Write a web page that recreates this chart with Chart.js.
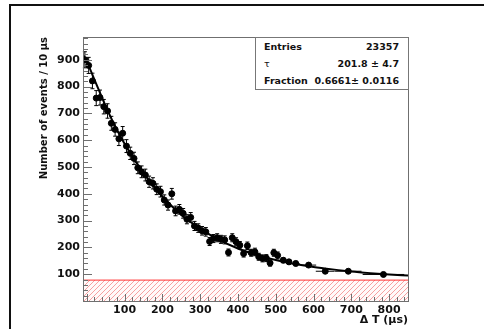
<!DOCTYPE html>
<html>
<head>
<meta charset="utf-8">
<script src="https://cdn.jsdelivr.net/npm/chart.js@4.4.1/dist/chart.umd.min.js"></script>
<style>
  html, body { margin: 0; padding: 0; background: #fff; overflow: hidden; }
  #wrap { position: relative; width: 484px; height: 329px; }
  #frame { position: absolute; left: 9px; top: 4px; width: 520px; height: 400px;
           border-top: 2px solid #111; border-left: 2px solid #111; }
  #decay { position: absolute; left: 0; top: 0; }
  #stats { position: absolute; left: 255px; top: 37px; width: 152px; height: 51px;
           border: 1px solid #777; background: #fff;
           font-family: "DejaVu Sans", sans-serif; font-weight: bold; font-size: 9.5px; color: #111; }
  #stats .row { position: absolute; left: 8px; right: 9px; height: 17px; line-height: 17px; }
  #stats .row span { position: absolute; right: 0; }
  #stats .tau { font-weight: normal; }
</style>
</head>
<body>
<div id="wrap">
  <div id="frame"></div>
  <canvas id="decay" width="484" height="329"></canvas>
  <div id="stats">
    <div class="row" style="top:0px">Entries<span>23357</span></div>
    <div class="row" style="top:17px"><b class="tau">τ</b><span>201.8 ± 4.7</span></div>
    <div class="row" style="top:34px">Fraction<span>0.6661± 0.0116</span></div>
  </div>
</div>
<script>
// Dữ liệu: tâm bin (µs), số sự kiện / 10 µs, sai số
const binX = [-5, 5, 15, 25, 35, 45, 55, 65, 75, 85, 95, 105, 115, 125, 135, 145, 155, 165, 175, 185,
              195, 205, 215, 225, 235, 245, 255, 265, 275, 285, 295, 305, 315, 325, 335, 345, 355, 365, 375, 385,
              395, 405, 415, 425, 435, 445, 455, 465, 475, 485, 495, 505,
              520, 535, 553, 587, 631, 692, 785];
const counts = [900, 879, 821, 757, 759, 725, 709, 663, 640, 605, 626, 578, 551, 532, 497, 482, 470, 445, 439, 417,
                408, 377, 358, 400, 336, 342, 327, 305, 312, 280, 272, 262, 258, 222, 233, 236, 230, 228, 181, 236,
                221, 208, 177, 206, 180, 183, 165, 159, 160, 142, 180, 170,
                152, 146, 140, 134, 111, 111, 99];
const errY = [30, 30, 29, 28, 28, 27, 27, 26, 25, 25, 25, 24, 23, 23, 22, 22, 22, 21, 21, 20,
              20, 19, 19, 20, 18, 18, 18, 17, 18, 17, 16, 16, 16, 15, 15, 15, 15, 15, 13, 15,
              15, 14, 13, 14, 13, 14, 13, 13, 13, 12, 13, 13,
              9, 9, 8, 6, 5, 4, 3];
const halfW = [5, 5, 5, 5, 5, 5, 5, 5, 5, 5, 5, 5, 5, 5, 5, 5, 5, 5, 5, 5,
               5, 5, 5, 5, 5, 5, 5, 5, 5, 5, 5, 5, 5, 5, 5, 5, 5, 5, 5, 5,
               5, 5, 5, 5, 5, 5, 5, 5, 5, 5, 5, 5,
               8, 8, 10, 20, 25, 35, 55];

// đường fit (đọc theo hình)
const fitX = [-10, 0, 25, 50, 75, 100, 150, 200, 250, 300, 350, 400, 450, 500, 550, 600, 650, 700, 750, 800, 850];
const fitY = [918, 893, 810, 727, 652, 587, 477, 390, 322, 270, 228, 196, 172, 153, 138, 127, 118, 110, 104, 99, 95];

// mức nền (vùng gạch đỏ)
const bgLevel = 78;

// nhãn trục
const xTicks = [100, 200, 300, 400, 500, 600, 700, 800];
const yTicks = [100, 200, 300, 400, 500, 600, 700, 800, 900];

function makeHatch() {
    const c = document.createElement('canvas');
    c.width = 5;
    c.height = 5;
    const g = c.getContext('2d');
    g.fillStyle = '#fffafa';
    g.fillRect(0, 0, 5, 5);
    g.strokeStyle = '#f58a8a';
    g.lineWidth = 0.8;
    g.beginPath();
    g.moveTo(-1, 6); g.lineTo(6, -1);
    g.moveTo(-3.5, 3.5); g.lineTo(3.5, -3.5);
    g.moveTo(1.5, 8.5); g.lineTo(8.5, 1.5);
    g.stroke();
    return g.createPattern(c, 'repeat');
}

// vẽ thanh sai số
const errorBars = {
    id: 'errorBars',
    afterDatasetsDraw(chart) {
        const ctx = chart.ctx;
        const xs = chart.scales.x, ys = chart.scales.y;
        ctx.save();
        ctx.strokeStyle = '#000';
        ctx.lineWidth = 1;
        ctx.beginPath();
        for (let i = 0; i < binX.length; i++) {
            const px = xs.getPixelForValue(binX[i]);
            const y1 = ys.getPixelForValue(counts[i] - errY[i]);
            const y2 = ys.getPixelForValue(counts[i] + errY[i]);
            const py = ys.getPixelForValue(counts[i]);
            const xl = xs.getPixelForValue(binX[i] - halfW[i]);
            const xr = xs.getPixelForValue(binX[i] + halfW[i]);
            ctx.moveTo(px, y1); ctx.lineTo(px, y2);
            ctx.moveTo(px - 2, y1); ctx.lineTo(px + 2, y1);
            ctx.moveTo(px - 2, y2); ctx.lineTo(px + 2, y2);
            ctx.moveTo(xl, py); ctx.lineTo(xr, py);
        }
        ctx.stroke();
        ctx.restore();
    }
};

// khung + vạch chia kiểu ROOT (hướng vào trong)
const rootFrame = {
    id: 'rootFrame',
    afterDraw(chart) {
        const ctx = chart.ctx;
        const a = chart.chartArea;
        const xs = chart.scales.x, ys = chart.scales.y;
        ctx.save();
        ctx.strokeStyle = '#6f6f6f';
        ctx.lineWidth = 1;
        ctx.strokeRect(Math.round(a.left) + 0.5, Math.round(a.top) + 0.5,
                       Math.round(a.right - a.left), Math.round(a.bottom - a.top));
        ctx.beginPath();
        for (let v = 0; v <= ys.max; v += 20) {
            const y = Math.round(ys.getPixelForValue(v)) + 0.5;
            const len = v % 100 === 0 ? 9 : 5;
            ctx.moveTo(a.left, y); ctx.lineTo(a.left + len, y);
        }
        for (let v = 0; v <= xs.max; v += 20) {
            const x = Math.round(xs.getPixelForValue(v)) + 0.5;
            const len = v % 100 === 0 ? 7 : 4;
            ctx.moveTo(x, a.bottom); ctx.lineTo(x, a.bottom - len);
        }
        ctx.stroke();
        ctx.restore();
    }
};

const tickFont = { family: 'DejaVu Sans', size: 11, weight: 'bold' };

const decayChart = new Chart(document.getElementById('decay'), {
    data: {
        datasets: [{
            type: 'scatter',
            label: 'data',
            data: binX.map((x, i) => ({ x: x, y: counts[i] })),
            backgroundColor: '#000',
            borderColor: '#000',
            pointRadius: 3,
            pointHoverRadius: 3,
            order: 1
        }, {
            type: 'line',
            label: 'fit',
            data: fitX.map((x, i) => ({ x: x, y: fitY[i] })),
            borderColor: '#000',
            borderWidth: 2,
            pointRadius: 0,
            fill: false,
            cubicInterpolationMode: 'monotone',
            order: 0
        }, {
            type: 'line',
            label: 'background',
            data: [{ x: -10, y: bgLevel }, { x: 850, y: bgLevel }],
            borderColor: '#ff3030',
            borderWidth: 1,
            backgroundColor: makeHatch(),
            pointRadius: 0,
            fill: 'origin',
            order: 5
        }]
    },
    options: {
        responsive: false,
        animation: false,
        layout: {
            padding: { left: 34, top: 37, right: 76, bottom: 0 }
        },
        plugins: {
            legend: { display: false },
            tooltip: { enabled: false }
        },
        scales: {
            x: {
                type: 'linear',
                min: -10,
                max: 850,
                grid: { display: false, drawTicks: false },
                border: { display: false },
                afterBuildTicks: s => { s.ticks = xTicks.map(v => ({ value: v })); },
                afterFit: s => { s.height = 28; },
                ticks: { color: '#111', font: tickFont, padding: 3, maxRotation: 0, autoSkip: false },
                title: {
                    display: true,
                    text: 'Δ T (µs)',
                    align: 'end',
                    color: '#111',
                    font: { family: 'DejaVu Sans', size: 11, weight: 'bold' },
                    padding: { top: 0, bottom: 2 }
                }
            },
            y: {
                type: 'linear',
                min: 0,
                max: 985,
                grid: { display: false, drawTicks: false },
                border: { display: false },
                afterBuildTicks: s => { s.ticks = yTicks.map(v => ({ value: v })); },
                afterFit: s => { s.width = 49; },
                ticks: { color: '#111', font: tickFont, padding: 3, autoSkip: false },
                title: {
                    display: true,
                    text: 'Number of events / 10 µs',
                    align: 'end',
                    color: '#111',
                    font: { family: 'DejaVu Sans', size: 10, weight: 'bold' },
                    padding: { top: 4, bottom: 0 }
                }
            }
        }
    },
    plugins: [errorBars, rootFrame]
});
</script>
</body>
</html>
